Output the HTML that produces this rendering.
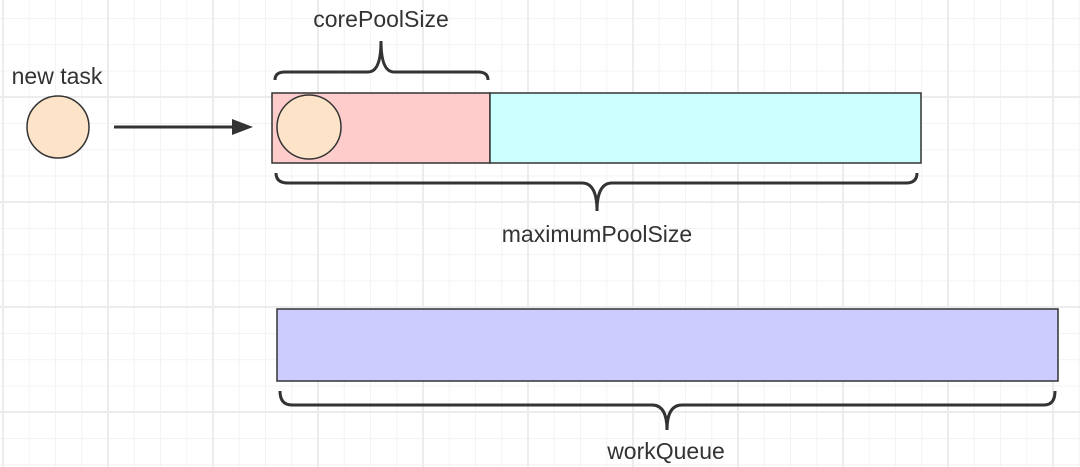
<!DOCTYPE html>
<html><head><meta charset="utf-8"><style>
html,body{margin:0;padding:0}
body{width:1080px;height:467px;overflow:hidden;position:relative;background:#fff;
background-image:
linear-gradient(to right,#ececec 0 2px,transparent 2px),
linear-gradient(to bottom,#ececec 0 2px,transparent 2px),
linear-gradient(to right,#f3f3f3 0 1px,transparent 1px),
linear-gradient(to bottom,#f3f3f3 0 1px,transparent 1px);
background-size:105px 105px,105px 105px,26.25px 26.25px,26.25px 26.25px;
background-position:2px 0,0 96px,2.5px 0,0 18px;}
svg{position:absolute;left:0;top:0}
text{font-family:"Liberation Sans",sans-serif;font-size:23px;fill:#333}
</style></head><body>
<svg width="1080" height="467" viewBox="0 0 1080 467">
<text x="57" y="84" text-anchor="middle">new task</text>
<circle cx="58" cy="127" r="31" fill="#fde4c8" stroke="#333" stroke-width="1.5"/>
<line x1="114" y1="127" x2="236" y2="127" stroke="#333" stroke-width="3"/>
<polygon points="232,119 253,127 232,135" fill="#333"/>
<rect x="272" y="93" width="218" height="70" fill="#ffcccc" stroke="#333" stroke-width="1.5"/>
<rect x="490" y="93" width="431" height="70" fill="#ccffff" stroke="#333" stroke-width="1.5"/>
<circle cx="309" cy="127" r="32" fill="#fde4c8" stroke="#333" stroke-width="1.5"/>
<text x="381" y="27" text-anchor="middle">corePoolSize</text>
<path d="M275,80 Q275,72 285,72 L368,72 Q381,72 381,41 Q381,72 394,72 L478,72 Q488,72 488,80" fill="none" stroke="#333" stroke-width="3"/>
<path d="M276,173 Q276,183 288,183 L582,183 Q597,183 597,211 Q597,183 612,183 L906,183 Q917,183 917,173" fill="none" stroke="#333" stroke-width="3"/>
<text x="597" y="242" text-anchor="middle">maximumPoolSize</text>
<rect x="277" y="309" width="781" height="72" fill="#ccccff" stroke="#333" stroke-width="1.5"/>
<path d="M280,391 Q280,405 292,405 L652,405 Q667,405 667,430 Q667,405 682,405 L1044,405 Q1055,405 1055,391" fill="none" stroke="#333" stroke-width="3"/>
<text x="666" y="459" text-anchor="middle">workQueue</text>
</svg>
</body></html>
